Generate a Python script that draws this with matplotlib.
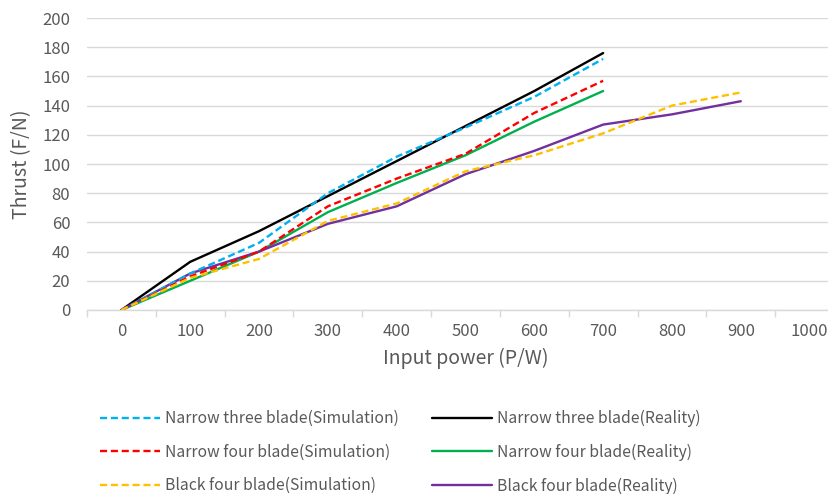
import matplotlib
matplotlib.use("Agg")
import matplotlib.pyplot as plt
import numpy as np

plt.rcParams['font.family'] = ['Noto Sans CJK SC', 'DejaVu Sans']

# category axis (Excel style line chart)
categories = ["0", "100", "200", "300", "400", "500", "600", "700", "800", "900", "1000"]

narrow3_sim = [0, 25, 46, 80, 105, 125, 146, 172]
narrow3_real = [0, 33, 54, 78, 102, 126, 150, 176]
narrow4_sim = [0, 23, 40, 71, 90, 107, 135, 157]
narrow4_real = [0, 20, 40, 67, 87, 106, 129, 150]
black4_sim = [0, 22, 35, 61, 73, 95, 106, 121, 140, 149]
black4_real = [0, 25, 40, 59, 71, 93, 109, 127, 134, 143]

W, H = 829, 494
fig = plt.figure(figsize=(W / 100, H / 100), dpi=100)
# plot area continues past the right edge (the original picture is cropped)
ax_l, ax_r = 87, 844
ax = fig.add_axes([ax_l / W, (H - 310) / H, (ax_r - ax_l) / W, (310 - 18) / H])

grey = '#595959'
grid = '#D9D9D9'
lw = 1.7
dash = (3, 1.6)

series = [
    (narrow3_sim, '#00B0F0', True, 'Narrow three blade(Simulation)'),
    (narrow4_sim, '#FF0000', True, 'Narrow four blade(Simulation)'),
    (black4_sim, '#FFC000', True, 'Black four blade(Simulation)'),
    (narrow3_real, '#000000', False, 'Narrow three blade(Reality)'),
    (narrow4_real, '#00B050', False, 'Narrow four blade(Reality)'),
    (black4_real, '#7030A0', False, 'Black four blade(Reality)'),
]
# draw reality first so dashed lines sit on top, like the original
order = [3, 4, 5, 0, 1, 2]
handles = {}
for i in order:
    vals, col, dashed, lab = series[i]
    x = np.arange(len(vals))
    if dashed:
        ln, = ax.plot(x, vals, color=col, lw=lw, linestyle=(0, dash), label=lab,
                      solid_capstyle='butt', dash_capstyle='butt')
    else:
        ln, = ax.plot(x, vals, color=col, lw=lw, label=lab, solid_capstyle='round')
    handles[i] = ln

ax.set_xlim(-0.5, len(categories) - 0.5)
ax.set_ylim(0, 200)
ax.set_yticks(np.arange(0, 201, 20))
ax.set_xticks(np.arange(len(categories)))
ax.set_xticklabels(categories)
ax.set_xticks(np.arange(-0.5, len(categories)), minor=True)
ax.grid(axis='y', color=grid, lw=1)
ax.set_axisbelow(True)
for s in ['top', 'right', 'left']:
    ax.spines[s].set_visible(False)
ax.spines['bottom'].set_color(grid)
ax.spines['bottom'].set_linewidth(1)
ax.tick_params(axis='x', which='major', length=0, pad=9, labelsize=12, labelcolor=grey)
ax.tick_params(axis='x', which='minor', length=5, color=grid, width=1)
ax.tick_params(axis='y', length=0, pad=12, labelsize=12, labelcolor=grey)

ax.set_xlabel('Input power (P/W)', fontsize=14, color=grey, labelpad=6)
ax.set_ylabel('Thrust (F/N)', fontsize=14, color=grey)
ax.yaxis.set_label_coords((32 - ax_l) / (ax_r - ax_l), 0.5)

leg = fig.legend([handles[i] for i in range(6)], [s[3] for s in series],
                 ncol=2, loc='upper left', bbox_to_anchor=(100 / W, 1 - 410 / H),
                 frameon=False, fontsize=11.3, handlelength=3.85, handletextpad=0.3,
                 columnspacing=2.1, labelspacing=1.05, borderpad=0, borderaxespad=0)
for t in leg.get_texts():
    t.set_color(grey)

fig.savefig('out.png', dpi=100)
